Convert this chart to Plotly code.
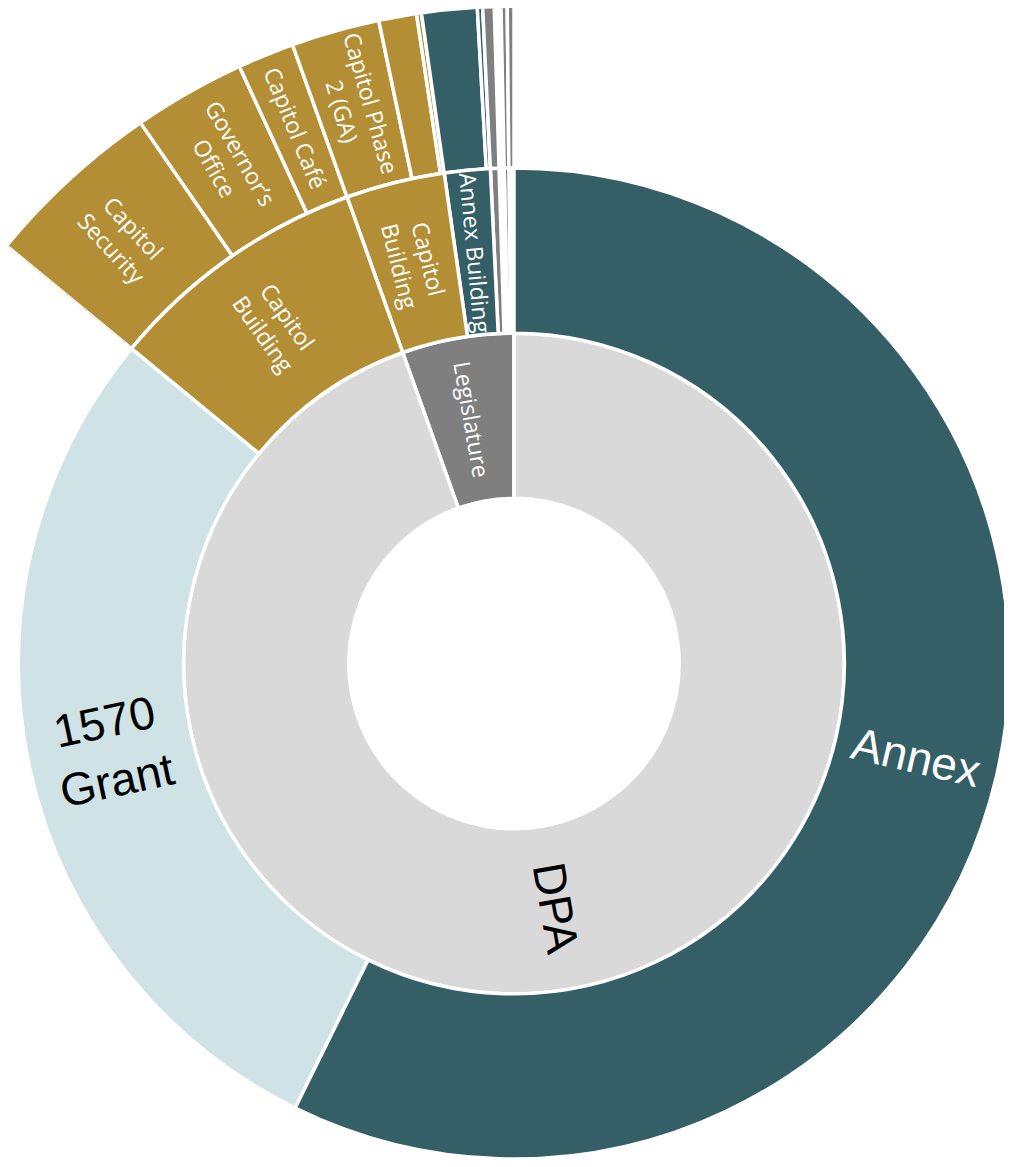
import math
import plotly.graph_objects as go

# ---------------- data (listed clockwise from 12 o'clock) ----------------
inner_labels = ["DPA", "Legislature"]

mid_ids = ["DPA|Annex", "DPA|1570 Grant", "DPA|Capitol Building",
           "Legislature|Capitol Building", "Legislature|Annex Building",
           "Legislature|Other A", "Legislature|Other B",
           "Legislature|Other C", "Legislature|Other D"]
mid_labels = ["Annex", "1570 Grant", "Capitol Building",
              "Capitol Building", "Annex Building",
              "Other A", "Other B", "Other C", "Other D"]
mid_parents = ["DPA", "DPA", "DPA",
               "Legislature", "Legislature",
               "Legislature", "Legislature", "Legislature", "Legislature"]
mid_values = [572.8, 286.8, 85.7, 32.2, 14.9, 2.8, 1.65, 1.5, 1.65]

outer_labels = ["Capitol Security", "Governor’s Office", "Capitol Café",
                "Capitol Phase 2 (GA)", "Capitol Other 1", "Capitol Other 2",
                "Annex Building 1", "Annex Building 2",
                "Other A1", "Other C1", "Other D1"]
outer_parents = ["DPA|Capitol Building"] * 3 + \
                ["Legislature|Capitol Building"] * 3 + \
                ["Legislature|Annex Building"] * 2 + \
                ["Legislature|Other A", "Legislature|Other C", "Legislature|Other D"]
outer_values = [44.2, 27.6, 13.9, 21.7, 9.3, 1.2, 13.6, 1.3, 2.8, 1.5, 1.65]

# ---------------- styles ----------------
TEAL = "#345f66"
LIGHT = "#cfe3e7"
GOLD = "#b48e35"
LGRAY = "#d9d9d9"
DGRAY = "#7f7f7f"
WHITE = "#ffffff"
LINE_W = 3.5

inner_colors = {"DPA": LGRAY, "Legislature": DGRAY}
mid_colors = [TEAL, LIGHT, GOLD, GOLD, TEAL, DGRAY, WHITE, DGRAY, WHITE]
outer_colors = [GOLD] * 6 + [TEAL] * 2 + [DGRAY] * 3

BIG = dict(family="Liberation Sans, Arial, sans-serif", size=46)
SMALL = dict(family="Open Sans, sans-serif", size=23)
label_style = {
    "DPA": (BIG, "#000000"),
    "Annex": (BIG, "#ffffff"),
    "1570 Grant": (BIG, "#000000"),
    "Legislature": (SMALL, "#ffffff"),
    "Capitol Building": (SMALL, "#ffffff"),
    "Annex Building": (SMALL, "#ffffff"),
    "Capitol Security": (SMALL, "#ffffff"),
    "Governor’s Office": (SMALL, "#ffffff"),
    "Capitol Café": (SMALL, "#ffffff"),
    "Capitol Phase 2 (GA)": (SMALL, "#ffffff"),
}
display = {
    "1570 Grant": "1570<br>Grant",
    "Capitol Building": "Capitol<br>Building",
    "Capitol Security": "Capitol<br>Security",
    "Governor’s Office": "Governor’s<br>Office",
    "Capitol Phase 2 (GA)": "Capitol Phase<br>2 (GA)",
}

# ---------------- geometry of the page ----------------
W, H = 1004, 1151
CX, CY, R2 = 506.0, 655.5, 495.5
UNIT = R2 / 3.0

# ---------------- angles from the data ----------------
total = sum(mid_values)
DEG = 360.0 / total

mid_start, mid_span = {}, {}
acc = 0.0
for i, v in zip(mid_ids, mid_values):
    mid_start[i] = acc * DEG
    mid_span[i] = v * DEG
    acc += v

inner_start, inner_span = {}, {}
acc = 0.0
for g in inner_labels:
    s = sum(v for v, p in zip(mid_values, mid_parents) if p == g)
    inner_start[g] = acc * DEG
    inner_span[g] = s * DEG
    acc += s

outer_start, outer_span = [], []
fill = {}
for p, v in zip(outer_parents, outer_values):
    off = fill.get(p, 0.0)
    outer_start.append(mid_start[p] + off * DEG)
    outer_span.append(v * DEG)
    fill[p] = off + v

# ---------------- sunburst (inner three levels), drawn counter-clockwise ----------------
rev = list(range(len(mid_ids)))[::-1]
ids = ["root"] + inner_labels[::-1] + [mid_ids[k] for k in rev]
labels = [""] + inner_labels[::-1] + [mid_labels[k] for k in rev]
parents = [""] + ["root"] * len(inner_labels) + [mid_parents[k] for k in rev]
values = [0] * (1 + len(inner_labels)) + [mid_values[k] for k in rev]
colors = [WHITE] + [inner_colors[g] for g in inner_labels[::-1]] + [mid_colors[k] for k in rev]

fig = go.Figure()
fig.add_trace(go.Sunburst(
    ids=ids, labels=labels, parents=parents, values=values,
    branchvalues="remainder", sort=False, rotation=90,
    marker=dict(colors=colors, line=dict(color=WHITE, width=LINE_W)),
    leaf=dict(opacity=1), textinfo="none", hoverinfo="label+value",
    domain=dict(x=[(CX - R2) / W, (CX + R2) / W],
                y=[(H - CY - R2) / H, (H - CY + R2) / H]),
))

# ---------------- outer ring as polar bars in a sector subplot ----------------
RPOL = CY                      # polar radius in px (top of page)
RMAX = RPOL / UNIT             # radial range shown
a1 = math.degrees(math.acos(-CX / RPOL)) - 0.02
a0 = 89.0
sector = [a0, a1]
bx0, bx1 = math.cos(math.radians(a1)), math.cos(math.radians(a0))
fig.add_trace(go.Barpolar(
    theta=[s + w / 2 for s, w in zip(outer_start, outer_span)],
    width=outer_span,
    base=[3] * len(outer_values),
    r=[1] * len(outer_values),
    marker=dict(color=outer_colors, line=dict(color=WHITE, width=LINE_W)),
    hovertext=[f"{l}: {v}" for l, v in zip(outer_labels, outer_values)],
    hoverinfo="text",
))
fig.update_layout(
    polar=dict(
        domain=dict(x=[(CX + RPOL * bx0) / W, (CX + RPOL * bx1) / W],
                    y=[1 - CY / H, 1.0]),
        sector=sector, hole=0, bgcolor="rgba(0,0,0,0)",
        radialaxis=dict(range=[0, RMAX], visible=False, showgrid=False),
        angularaxis=dict(rotation=90, direction="clockwise", visible=False,
                         showgrid=False, showline=False),
        bargap=0,
    )
)

# ---------------- labels, radial, at the middle of each sector ----------------
def radial_angle(theta):
    t = theta % 360
    return t - 90 if t < 180 else t - 270

annotations = []
def add_label(name, theta, ring_mid):
    if name not in label_style:
        return
    font, color = label_style[name]
    r = ring_mid * UNIT
    x = CX + r * math.sin(math.radians(theta))
    y = CY - r * math.cos(math.radians(theta))
    annotations.append(dict(
        x=x / W, y=1 - y / H, xref="paper", yref="paper",
        text=display.get(name, name), showarrow=False,
        textangle=radial_angle(theta), xanchor="center", yanchor="middle",
        font=dict(family=font["family"], size=font["size"], color=color),
    ))

for g in inner_labels:
    add_label(g, inner_start[g] + inner_span[g] / 2, 1.5)
for i, l in zip(mid_ids, mid_labels):
    add_label(l, mid_start[i] + mid_span[i] / 2, 2.5)
for l, s, w in zip(outer_labels, outer_start, outer_span):
    add_label(l, s + w / 2, 3.5)

fig.update_layout(
    width=W, height=H, margin=dict(l=0, r=0, t=0, b=0),
    paper_bgcolor="white", plot_bgcolor="white", showlegend=False,
    annotations=annotations,
)

fig.write_html("out.html")
